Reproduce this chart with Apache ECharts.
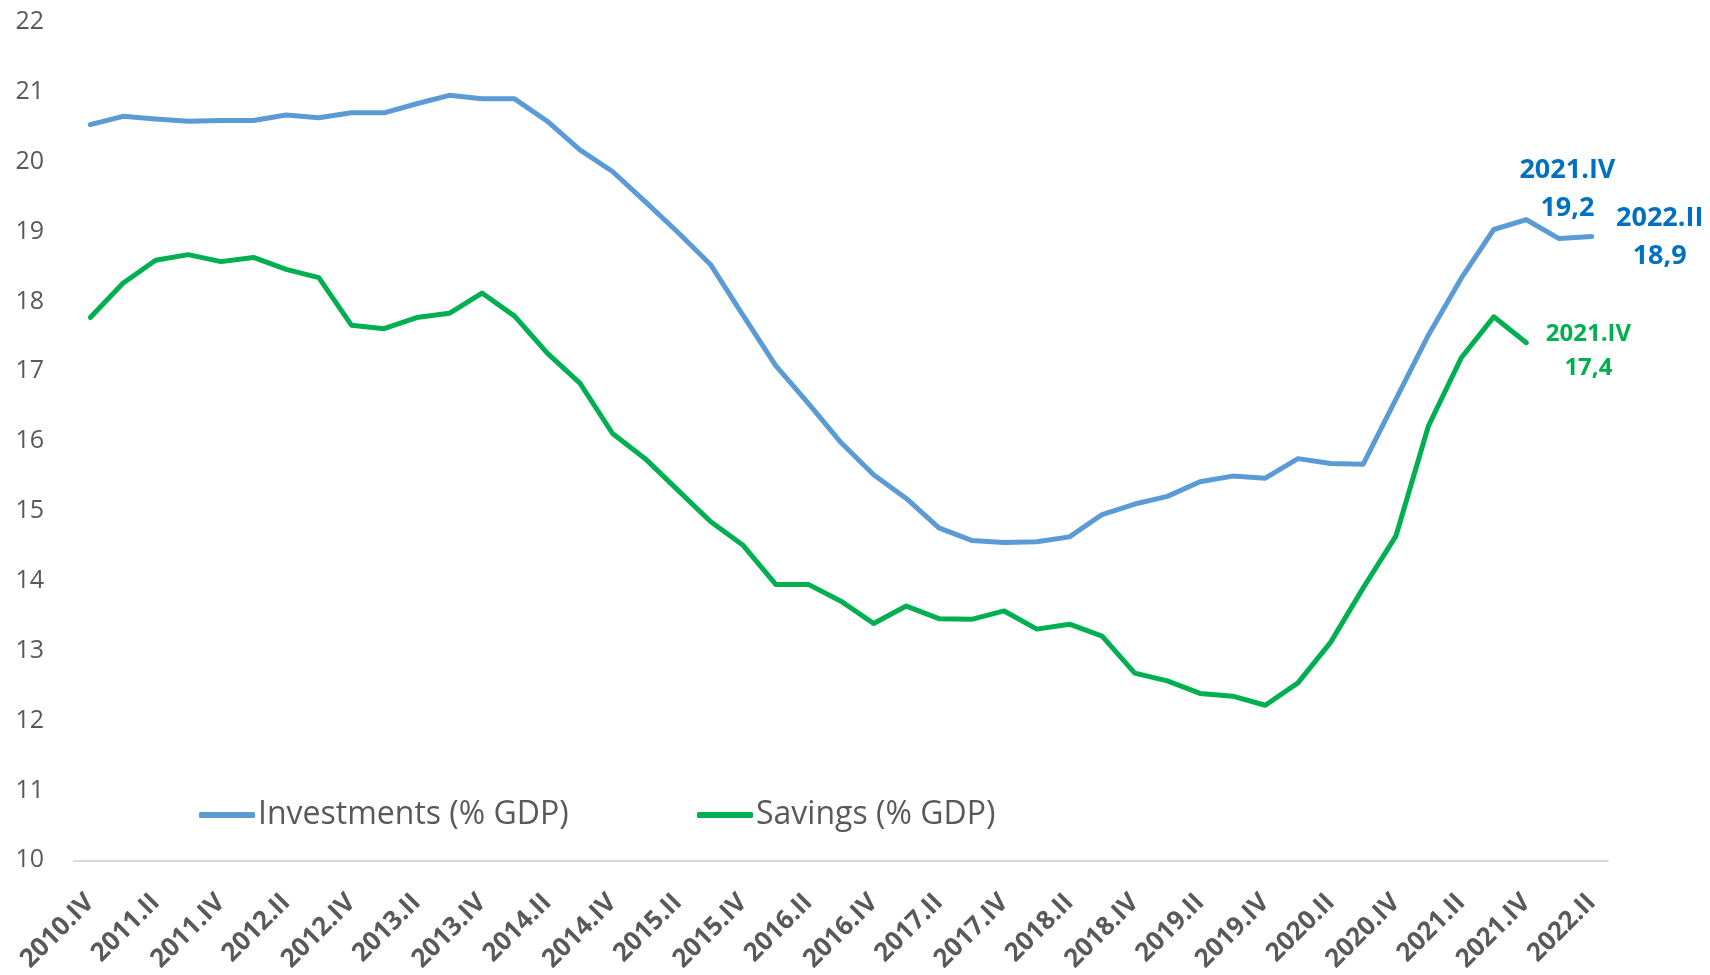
<!DOCTYPE html>
<html>
<head>
<meta charset="utf-8">
<script src="https://cdn.jsdelivr.net/npm/echarts@6/dist/echarts.min.js"></script>
<style>
html,body{margin:0;padding:0;background:#fff;}
#chart{width:1710px;height:975px;}
</style>
</head>
<body>
<div id="chart"></div>
<script>
const categories = [
  "2010.IV",
  "2011.I","2011.II","2011.III","2011.IV",
  "2012.I","2012.II","2012.III","2012.IV",
  "2013.I","2013.II","2013.III","2013.IV",
  "2014.I","2014.II","2014.III","2014.IV",
  "2015.I","2015.II","2015.III","2015.IV",
  "2016.I","2016.II","2016.III","2016.IV",
  "2017.I","2017.II","2017.III","2017.IV",
  "2018.I","2018.II","2018.III","2018.IV",
  "2019.I","2019.II","2019.III","2019.IV",
  "2020.I","2020.II","2020.III","2020.IV",
  "2021.I","2021.II","2021.III","2021.IV",
  "2022.I","2022.II"
];
const investments = [
  20.53,
  20.65,20.61,20.58,20.59,
  20.59,20.67,20.63,20.70,
  20.70,20.83,20.95,20.90,
  20.90,20.58,20.17,19.86,
  19.43,18.99,18.53,17.80,
  17.08,16.54,15.98,15.52,
  15.18,14.76,14.58,14.55,
  14.56,14.63,14.95,15.10,
  15.21,15.42,15.50,15.47,
  15.75,15.68,15.67,16.60,
  17.52,18.33,19.03,19.17,
  18.90,18.93
];
const savings = [
  17.77,
  18.26,18.59,18.67,18.57,
  18.63,18.46,18.34,17.66,
  17.61,17.77,17.83,18.12,
  17.79,17.26,16.83,16.11,
  15.75,15.30,14.85,14.51,
  13.95,13.95,13.71,13.39,
  13.64,13.46,13.45,13.57,
  13.31,13.38,13.21,12.68,
  12.57,12.39,12.35,12.22,
  12.54,13.12,13.90,14.64,
  16.22,17.19,17.78,17.41
];
const seriesNames = ["Investments (% GDP)", "Savings (% GDP)"];
const invLabelIdx = [44, 46];
const savLabelIdx = [44];

const FONT = "'Open Sans', 'Noto Sans', sans-serif";
const BLUE = "#5B9BD5", GREEN = "#00B050", LBLUE = "#0070C0";

function fmt(cat, v){ return cat + "\n" + v.toFixed(1).replace(".", ","); }

const invLabelStyle = {
  44: {offset:[41,-30]},
  46: {offset:[68,1]}
};
const invData = investments.map((v,i)=>{
  if (invLabelIdx.indexOf(i) >= 0) {
    return {value:v, label:{show:true, position:'inside', align:'center', verticalAlign:'middle',
      offset:invLabelStyle[i].offset, formatter:fmt(categories[i], v), color:LBLUE,
      fontFamily:FONT, fontWeight:'bold', fontSize:27, lineHeight:38}};
  }
  return v;
});
const savData = savings.map((v,i)=>{
  if (savLabelIdx.indexOf(i) >= 0) {
    return {value:v, label:{show:true, position:'inside', align:'center', verticalAlign:'middle',
      offset:[62,8], formatter:fmt(categories[i], v), color:GREEN,
      fontFamily:FONT, fontWeight:'bold', fontSize:24, lineHeight:34}};
  }
  return v;
});

const chart = echarts.init(document.getElementById('chart'));
chart.setOption({
  animation:false,
  backgroundColor:'#fff',
  grid:{left:74, right:102, top:22, bottom:113.5, containLabel:false},
  legend:[
    {data:[seriesNames[0]], left:194, top:790, icon:'roundRect', itemWidth:56, itemHeight:6, itemGap:10,
     textStyle:{fontFamily:FONT, fontSize:32, color:'#595959', lineHeight:40, padding:[0,0,0,-2]}},
    {data:[seriesNames[1]], left:692, top:790, icon:'roundRect', itemWidth:56, itemHeight:6,
     textStyle:{fontFamily:FONT, fontSize:32, color:'#595959', lineHeight:40, padding:[0,0,0,-2]}}
  ],
  xAxis:{
    type:'category', data:categories, boundaryGap:true,
    axisTick:{show:false},
    axisLine:{lineStyle:{color:'#d9d9d9', width:2}},
    axisLabel:{interval:1, rotate:45, margin:38,
      fontFamily:FONT, fontWeight:'bold', fontSize:26, color:'#595959'}
  },
  yAxis:{
    type:'value', min:10, max:22, interval:1,
    splitLine:{show:false}, axisLine:{show:false}, axisTick:{show:false},
    axisLabel:{margin:30, fontFamily:FONT, fontSize:25, color:'#595959'}
  },
  series:[
    {name:seriesNames[0], type:'line', data:invData, symbol:'circle', symbolSize:0.1,
     itemStyle:{color:BLUE}, lineStyle:{color:BLUE, width:5, cap:'round', join:'round'},
     emphasis:{disabled:true}},
    {name:seriesNames[1], type:'line', data:savData, symbol:'circle', symbolSize:0.1,
     itemStyle:{color:GREEN}, lineStyle:{color:GREEN, width:5, cap:'round', join:'round'},
     emphasis:{disabled:true}}
  ]
});
</script>
</body>
</html>
